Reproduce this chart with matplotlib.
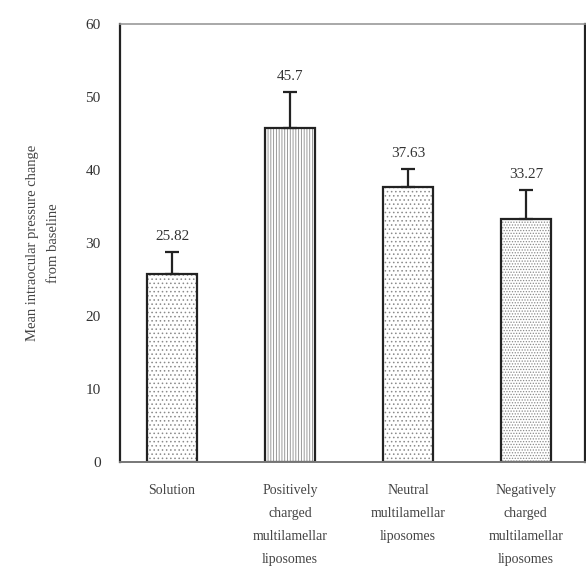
import numpy as np
import matplotlib
matplotlib.use("Agg")
import matplotlib.pyplot as plt

# ======================
# DATA
# ======================
categories = [
    "Solution",
    "Positively\ncharged\nmultilamellar\nliposomes",
    "Neutral\nmultilamellar\nliposomes",
    "Negatively\ncharged\nmultilamellar\nliposomes",
]
values = [25.82, 45.7, 37.63, 33.27]
errors = [3.0, 5.0, 2.5, 4.0]
value_labels = ["25.82", "45.7", "37.63", "33.27"]
hatches = ["....", "||||||", "....", "......"]

plt.rcParams['font.family'] = ['Liberation Serif', 'DejaVu Serif']
plt.rcParams['hatch.linewidth'] = 0.6

# ======================
# PLOT
# ======================
fig = plt.figure(figsize=(5.86, 5.72), dpi=100)
ax = fig.add_axes([0.205, 0.192, 0.793, 0.766])

x = np.arange(len(categories))
bars = ax.bar(
    x, values, width=0.42,
    color="white", edgecolor="#222222", linewidth=1.6
)
for b, h in zip(bars, hatches):
    b.set_hatch(h)
    b._hatch_color = matplotlib.colors.to_rgba('#8a8a8a')

ax.errorbar(
    x, values, yerr=[np.zeros(len(errors)), errors],
    fmt="none", ecolor="#222222", elinewidth=1.6, capsize=5, capthick=1.6
)

for xi, v, e, lab in zip(x, values, errors, value_labels):
    ax.text(xi, v + e + 1.2, lab, ha="center", va="bottom", fontsize=11, color="#333333")

ax.set_xlim(-0.44, 3.5)
ax.set_ylim(0, 60)
ax.set_yticks(np.arange(0, 61, 10))
ax.tick_params(axis="y", length=0, labelsize=11, pad=14, colors="#333333")
ax.tick_params(axis="x", length=0, labelsize=10, pad=16, colors="#444444")
ax.set_xticks(x)
ax.set_xticklabels(categories, linespacing=2.0)

ax.spines["left"].set_linewidth(1.6)
ax.spines["left"].set_color("#222222")
ax.spines["bottom"].set_linewidth(1.4)
ax.spines["bottom"].set_color("#777777")
ax.spines["top"].set_linewidth(1.2)
ax.spines["top"].set_color("#999999")
ax.spines["right"].set_linewidth(1.6)
ax.spines["right"].set_color("#222222")

ax.set_ylabel("Mean intraocular pressure change\nfrom baseline", fontsize=10.5,
              color="#444444", labelpad=18, linespacing=1.8)

plt.savefig("out.png", dpi=100)
